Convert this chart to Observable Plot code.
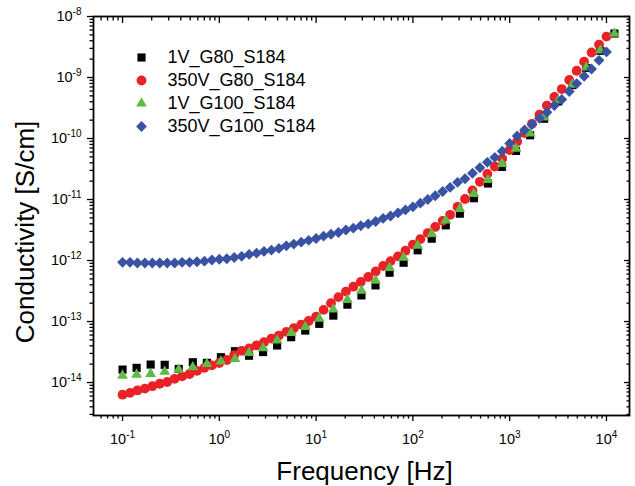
<!DOCTYPE html>
<html>
<head>
<meta charset="utf-8">
<script src="https://cdn.jsdelivr.net/npm/d3@7"></script>
<script src="https://cdn.jsdelivr.net/npm/@observablehq/plot@0.6"></script>
<style>
  html, body { margin: 0; padding: 0; background: #fff; }
  #chart { width: 635px; height: 486px; }
</style>
</head>
<body>
<div id="chart"></div>
<script>
// ---------- data ----------
const seriesNames = ["1V_G80_S184", "350V_G80_S184", "1V_G100_S184", "350V_G100_S184"];
const seriesColors = ["#000000", "#ea2127", "#62ba46", "#3853a3"];
const seriesSymbols = ["square", "circle", "triangle", "diamond2"];
const seriesRadius = [4.6, 4.9, 4.0, 4.9];

// sparse frequency sweep (1V_G80 and 1V_G100), Hz
const freqSparse = [0.1, 0.1397, 0.1951, 0.2726, 0.3808, 0.5321, 0.7434, 1.038, 1.450, 2.026,
  2.831, 3.955, 5.525, 7.719, 10.78, 15.06, 21.05, 29.40, 41.08, 57.39,
  80.18, 112.0, 156.5, 218.6, 305.4, 426.7, 596.1, 832.8, 1163, 1625,
  2270, 3172, 4431, 6190, 8648, 12082];

// dense frequency sweep (350V series), Hz
const freqDense = [0.1, 0.1194, 0.1425, 0.1701, 0.2031, 0.2424, 0.2894, 0.3455, 0.4125, 0.4924,
  0.5878, 0.7017, 0.8377, 1, 1.194, 1.425, 1.701, 2.031, 2.424, 2.894,
  3.455, 4.125, 4.924, 5.878, 7.017, 8.377, 10, 11.94, 14.25, 17.01,
  20.31, 24.24, 28.94, 34.55, 41.25, 49.24, 58.78, 70.17, 83.77, 100,
  119.4, 142.5, 170.1, 203.1, 242.4, 289.4, 345.5, 412.5, 492.4, 587.8,
  701.7, 837.7, 1000, 1194, 1425, 1701, 2031, 2424, 2894, 3455,
  4125, 4924, 5878, 7017, 8377, 10000];

// conductivity, S/cm
const sigma1V_G80 = [1.63e-14, 1.74e-14, 1.97e-14, 1.95e-14, 1.67e-14, 2.15e-14, 2.10e-14, 2.60e-14, 3.26e-14, 2.75e-14,
  3.16e-14, 4.05e-14, 5.53e-14, 7.11e-14, 9.16e-14, 1.25e-13, 1.89e-13, 2.68e-13, 3.91e-13, 6.31e-13,
  9.20e-13, 1.47e-12, 2.28e-12, 3.77e-12, 5.86e-12, 1.05e-11, 1.83e-11, 3.43e-11, 6.25e-11, 1.13e-10,
  2.11e-10, 4.06e-10, 7.50e-10, 1.43e-9, 2.74e-9, 5.26e-9];

const sigma350V_G80 = [6.31e-15, 6.76e-15, 7.41e-15, 7.94e-15, 8.71e-15, 9.55e-15, 1.02e-14, 1.15e-14, 1.26e-14, 1.38e-14,
  1.55e-14, 1.74e-14, 1.91e-14, 2.09e-14, 2.34e-14, 2.82e-14, 3.31e-14, 3.63e-14, 4.07e-14, 4.57e-14,
  5.25e-14, 5.89e-14, 6.76e-14, 7.76e-14, 8.91e-14, 1.02e-13, 1.20e-13, 1.55e-13, 2.00e-13, 2.51e-13,
  3.09e-13, 3.72e-13, 4.47e-13, 5.37e-13, 6.61e-13, 8.13e-13, 9.77e-13, 1.17e-12, 1.45e-12, 1.82e-12,
  2.24e-12, 2.82e-12, 3.55e-12, 4.47e-12, 5.62e-12, 7.59e-12, 1.02e-11, 1.41e-11, 1.95e-11, 2.63e-11,
  3.47e-11, 4.68e-11, 6.46e-11, 8.91e-11, 1.23e-10, 1.74e-10, 2.45e-10, 3.47e-10, 4.79e-10, 6.46e-10,
  9.12e-10, 1.29e-9, 1.82e-9, 2.57e-9, 3.47e-9, 4.68e-9];

const sigma1V_G100 = [1.30e-14, 1.35e-14, 1.39e-14, 1.51e-14, 1.63e-14, 1.78e-14, 2.02e-14, 2.21e-14, 2.44e-14, 3.07e-14,
  3.65e-14, 4.90e-14, 6.53e-14, 8.17e-14, 1.12e-13, 1.58e-13, 2.27e-13, 3.22e-13, 4.70e-13, 7.59e-13,
  1.11e-12, 1.76e-12, 2.74e-12, 4.53e-12, 7.05e-12, 1.24e-11, 2.10e-11, 3.85e-11, 6.85e-11, 1.21e-10,
  2.21e-10, 4.20e-10, 7.67e-10, 1.46e-9, 2.77e-9, 5.26e-9];

const sigma350V_G100 = [9.33e-13, 9.33e-13, 9.12e-13, 9.12e-13, 9.12e-13, 9.12e-13, 9.12e-13, 9.12e-13, 9.33e-13, 9.33e-13,
  9.55e-13, 9.77e-13, 1.02e-12, 1.05e-12, 1.07e-12, 1.12e-12, 1.17e-12, 1.26e-12, 1.32e-12, 1.41e-12,
  1.48e-12, 1.58e-12, 1.74e-12, 1.86e-12, 2.00e-12, 2.14e-12, 2.29e-12, 2.51e-12, 2.69e-12, 2.88e-12,
  3.16e-12, 3.39e-12, 3.72e-12, 3.98e-12, 4.37e-12, 4.90e-12, 5.37e-12, 6.03e-12, 6.76e-12, 7.59e-12,
  8.71e-12, 1.00e-11, 1.15e-11, 1.35e-11, 1.58e-11, 1.91e-11, 2.19e-11, 2.69e-11, 3.31e-11, 4.07e-11,
  4.90e-11, 6.17e-11, 8.32e-11, 1.10e-10, 1.38e-10, 1.70e-10, 2.14e-10, 2.69e-10, 3.47e-10, 4.37e-10,
  5.89e-10, 7.94e-10, 1.05e-9, 1.38e-9, 1.91e-9, 2.63e-9];

// axis ticks
const xMajorTicks = [0.1, 1, 10, 100, 1000, 10000];
const yMajorTicks = [1e-14, 1e-13, 1e-12, 1e-11, 1e-10, 1e-9, 1e-8];
const minorMultipliers = [2, 3, 4, 5, 6, 7, 8, 9];
const xDomain = [0.0501, 17300];
const yDomain = [2.88e-15, 1e-8];
const xLabel = "Frequency [Hz]";
const yLabel = "Conductivity [S/cm]";

// ---------- build ----------
const xMinorTicks = [0.01, ...xMajorTicks].flatMap(p => minorMultipliers.map(m => +(m * p).toPrecision(6)))
  .filter(v => v >= xDomain[0] - 1e-12 && v <= xDomain[1]);
const yMinorTicks = [1e-15, ...yMajorTicks].flatMap(p => minorMultipliers.map(m => +(m * p).toPrecision(6)))
  .filter(v => v >= yDomain[0] && v <= yDomain[1]);

const series = [
  {freq: freqSparse, sigma: sigma1V_G80},
  {freq: freqDense, sigma: sigma350V_G80},
  {freq: freqSparse, sigma: sigma1V_G100},
  {freq: freqDense, sigma: sigma350V_G100}
].map((s, i) => s.freq.map((f, j) => ({f, s: s.sigma[j], name: seriesNames[i]})));

const powFmt = d => "10^" + Math.round(Math.log10(d));
const blank = () => "";

const dataMarks = series.map((rows, i) =>
  Plot.dot(rows, {x: "f", y: "s", symbol: () => seriesSymbols[i], fill: seriesColors[i], r: seriesRadius[i], stroke: null})
);

const legendMarks = seriesNames.flatMap((name, i) => [
  Plot.dot([name], {x: null, y: null, frameAnchor: "top-left", dx: 48, dy: 41 + 23 * i,
    symbol: () => seriesSymbols[i], fill: seriesColors[i], r: seriesRadius[i]}),
  Plot.text([name], {x: null, y: null, frameAnchor: "top-left", dx: 74, dy: 41 + 23 * i,
    text: d => d, textAnchor: "start", lineAnchor: "middle", fontSize: 18, fill: "#000"})
]);

const tickW = 1.3;
const chart = Plot.plot({
  width: 635,
  height: 486,
  marginLeft: 93,
  marginRight: 6,
  marginTop: 16,
  marginBottom: 71,
  style: {fontFamily: "'Liberation Sans', Arial, sans-serif", fontSize: "14px", color: "#000", background: "#fff"},
  x: {type: "log", domain: xDomain},
  y: {type: "log", domain: yDomain},
  symbol: {type: "identity"},
  marks: [
    Plot.axisX(xMajorTicks, {anchor: "bottom", tickSize: 6, tickPadding: 12, tickFormat: powFmt, label: null, fontSize: 14.5, strokeWidth: tickW}),
    Plot.axisX(xMinorTicks, {anchor: "bottom", tickSize: 3.5, tickFormat: blank, label: null, strokeWidth: tickW}),
    Plot.axisX(xMajorTicks, {anchor: "top", tickSize: -6, tickFormat: blank, label: null, strokeWidth: tickW}),
    Plot.axisX(xMinorTicks, {anchor: "top", tickSize: -3.5, tickFormat: blank, label: null, strokeWidth: tickW}),
    Plot.axisY(yMajorTicks, {anchor: "left", tickSize: 6, tickPadding: 6, tickFormat: powFmt, label: null, fontSize: 14.5, strokeWidth: tickW}),
    Plot.axisY(yMinorTicks, {anchor: "left", tickSize: 3.5, tickFormat: blank, label: null, strokeWidth: tickW}),
    Plot.axisY(yMajorTicks, {anchor: "right", tickSize: -6, tickFormat: blank, label: null, strokeWidth: tickW}),
    Plot.axisY(yMinorTicks, {anchor: "right", tickSize: -3.5, tickFormat: blank, label: null, strokeWidth: tickW}),
    ...dataMarks,
    ...legendMarks,
    Plot.frame({stroke: "#000", strokeWidth: 1.8}),
    Plot.text([xLabel], {x: null, y: null, frameAnchor: "bottom", dx: 3, dy: 64, text: d => d,
      textAnchor: "middle", lineAnchor: "bottom", fontSize: 26, fill: "#000"}),
    Plot.text([yLabel], {x: null, y: null, frameAnchor: "left", dx: -60, dy: 16, text: d => d, rotate: -90,
      textAnchor: "middle", lineAnchor: "bottom", fontSize: 26, fill: "#000"})
  ]
});

// superscript exponents in tick labels
d3.select(chart).selectAll('g[aria-label$="tick label"] text').each(function () {
  const t = this.textContent;
  if (!t || t.indexOf("^") < 0) return;
  const [base, exp] = t.split("^");
  const oldSpan = this.querySelector("tspan");
  const dy0 = oldSpan ? oldSpan.getAttribute("dy") : null;
  const sel = d3.select(this);
  sel.selectAll("*").remove();
  sel.text(null);
  const b = sel.append("tspan").text(base);
  if (dy0) b.attr("dy", dy0);
  sel.append("tspan").attr("dy", "-6").attr("font-size", "10px").text(exp);
});

document.getElementById("chart").appendChild(chart);
</script>
</body>
</html>
